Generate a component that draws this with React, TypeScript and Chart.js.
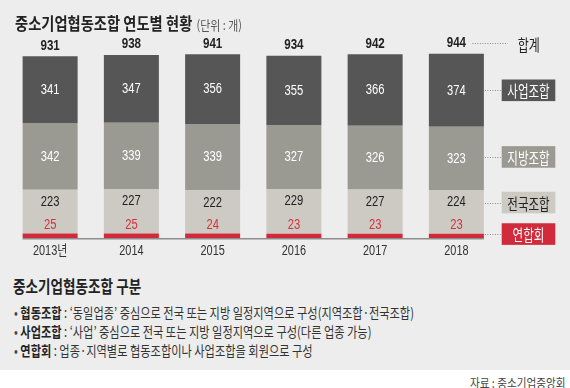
import React, { useEffect, useRef } from "react";
import { Chart, registerables } from "chart.js";

Chart.register(...registerables);

// ---- data ----
const years = ["2013년", "2014", "2015", "2016", "2017", "2018"];
const federation = [25, 25, 24, 23, 23, 23]; // 연합회
const national = [223, 227, 222, 229, 227, 224]; // 전국조합
const regional = [342, 339, 339, 327, 326, 323]; // 지방조합
const business = [341, 347, 356, 355, 366, 374]; // 사업조합
const totals = [931, 938, 941, 934, 942, 944];
const seriesNames = ["연합회", "전국조합", "지방조합", "사업조합"];
const totalLabel = "합계";
const yMax = 1000;

// ---- styles ----
const colors = ["#d12a3a", "#cdcac3", "#9b9a92", "#565656"];
const labelColors = ["#d3323f", "#222222", "#ffffff", "#ffffff"];
const legendText = ["#ffffff", "#222222", "#ffffff", "#ffffff"];
const NUM = "'Liberation Sans', 'Noto Sans CJK KR', sans-serif";
const KR = "'Noto Sans CJK KR', sans-serif";

function scaledText(ctx: CanvasRenderingContext2D, text: string, x: number, y: number, sx: number, align: CanvasTextAlign) {
  ctx.save();
  ctx.translate(x, y);
  ctx.scale(sx, 1);
  ctx.textAlign = align;
  ctx.fillText(text, 0, 0);
  ctx.restore();
}

const overlay = {
  id: "overlay",
  afterDatasetsDraw(chart: any) {
    const ctx: CanvasRenderingContext2D = chart.ctx;
    const metas = [0, 1, 2, 3].map((i) => chart.getDatasetMeta(i));
    const n = years.length;
    const first = metas[0].data[0];
    const last = metas[0].data[n - 1];
    const baseY = first.base;
    ctx.save();
    // baseline
    ctx.strokeStyle = "#8e8e8e";
    ctx.lineWidth = 1.5;
    ctx.beginPath();
    ctx.moveTo(first.x - first.width / 2, baseY + 0.5);
    ctx.lineTo(last.x + last.width / 2, baseY + 0.5);
    ctx.stroke();

    ctx.textBaseline = "middle";
    for (let j = 0; j < n; j++) {
      const red = metas[0].data[j];
      const light = metas[1].data[j];
      const mid = metas[2].data[j];
      const dark = metas[3].data[j];
      ctx.font = `14px ${NUM}`;
      ctx.fillStyle = labelColors[3];
      scaledText(ctx, String(business[j]), dark.x, (dark.y + dark.base) / 2 + 0.5, 0.8, "center");
      ctx.fillStyle = labelColors[2];
      scaledText(ctx, String(regional[j]), mid.x, (mid.y + mid.base) / 2 + 0.5, 0.8, "center");
      ctx.fillStyle = labelColors[1];
      scaledText(ctx, String(national[j]), light.x, light.y + 12.5, 0.8, "center");
      ctx.fillStyle = labelColors[0];
      scaledText(ctx, String(federation[j]), red.x, red.y - 8.5, 0.8, "center");
      ctx.font = `bold 14.5px ${NUM}`;
      ctx.fillStyle = "#222";
      scaledText(ctx, String(totals[j]), dark.x, dark.y - 10.5, 0.8, "center");
      ctx.font = `14px ${NUM}`;
      ctx.fillStyle = "#333";
      scaledText(ctx, years[j], dark.x, baseY + 12.5, 0.78, "center");
    }

    // legend boxes
    const lr = metas[0].data[n - 1];
    const barRight = lr.x + lr.width / 2;
    const boxL = chart.chartArea.right + 4.7;
    const boxW = 53.6;
    const boxH = 21.6;
    const ys = [
      (metas[0].data[n - 1].y + metas[0].data[n - 1].base) / 2 - 2,
      metas[1].data[n - 1].y + 12.5,
      (metas[2].data[n - 1].y + metas[2].data[n - 1].base) / 2 - 1.5,
      (metas[3].data[n - 1].y + metas[3].data[n - 1].base) / 2,
    ];
    ctx.strokeStyle = "#8a8a8a";
    ctx.lineWidth = 1;
    ctx.setLineDash([1, 1.5]);
    for (let i = 0; i < 4; i++) {
      const cy = Math.round(ys[i]) + 0.5;
      ctx.beginPath();
      ctx.moveTo(barRight + 1, cy);
      ctx.lineTo(boxL - 1, cy);
      ctx.stroke();
    }
    // total connector
    const topY = Math.round(metas[3].data[n - 1].y - 10.5) + 0.5;
    ctx.beginPath();
    ctx.moveTo(lr.x + 16, topY);
    ctx.lineTo(boxL + 6, topY);
    ctx.stroke();
    ctx.setLineDash([]);

    for (let i = 0; i < 4; i++) {
      ctx.fillStyle = colors[i];
      ctx.fillRect(boxL, ys[i] - boxH / 2, boxW, boxH);
      ctx.fillStyle = legendText[i];
      ctx.font = `16px ${KR}`;
      scaledText(ctx, seriesNames[i], boxL + boxW / 2, ys[i] + 1, 0.72, "center");
    }
    ctx.fillStyle = "#222";
    ctx.font = `16px ${KR}`;
    scaledText(ctx, totalLabel, boxL + 16, topY + 1, 0.75, "left");
    ctx.restore();
  },
};

function ChartCanvas() {
  const ref = useRef<HTMLCanvasElement | null>(null);
  useEffect(() => {
    if (!ref.current) return;
    const mk = (data: number[], i: number) => ({
      label: seriesNames[i],
      data,
      backgroundColor: colors[i],
      borderWidth: 0,
      barPercentage: 0.677,
      categoryPercentage: 1,
    });
    const chart = new Chart(ref.current, {
      type: "bar",
      data: {
        labels: years,
        datasets: [mk(federation, 0), mk(national, 1), mk(regional, 2), mk(business, 3)],
      },
      options: {
        animation: false,
        responsive: false,
        maintainAspectRatio: false,
        layout: { padding: { left: 9.5, right: 73, top: 42.8, bottom: 21.7 } },
        plugins: { legend: { display: false }, tooltip: { enabled: false }, title: { display: false } },
        scales: {
          x: { stacked: true, display: false },
          y: { stacked: true, display: false, min: 0, max: yMax },
        },
      },
      plugins: [overlay],
    });
    return () => chart.destroy();
  }, []);
  return <canvas ref={ref} width={570} height={260} style={{ position: "absolute", left: 0, top: 0, width: 570, height: 260 }} />;
}

const sx = (s: number, origin = "left center"): React.CSSProperties => ({
  display: "inline-block",
  transform: `scaleX(${s})`,
  transformOrigin: origin,
  whiteSpace: "nowrap",
});

export default function App() {
  const kr = "'Noto Sans CJK KR', sans-serif";
  const bullet = (bold: string, rest: string, top: number) => (
    <div style={{ position: "absolute", left: 14, top, fontSize: 14, lineHeight: "18px", color: "#333", fontFamily: kr }}>
      <span style={sx(0.8)}>
        <span style={{ color: "#444" }}>•</span> <span style={{ fontWeight: 700, color: "#222" }}>{bold}</span>
        {rest}
      </span>
    </div>
  );
  return (
    <div style={{ position: "fixed", left: 0, top: 0, width: 570, height: 388, background: "#ffffff", overflow: "hidden", fontFamily: kr }}>
      <div style={{ position: "absolute", left: 0, top: 0, width: 570, height: 370, background: "#ededed" }} />
      <ChartCanvas />
      <div style={{ position: "absolute", left: 15, top: 12, lineHeight: "22px", color: "#222" }}>
        <span style={sx(0.84)}>
          <span style={{ fontSize: 17, fontWeight: 700 }}>중소기업협동조합 연도별 현황</span>
          <span style={{ fontSize: 13, color: "#555", marginLeft: 5 }}>(단위 : 개)</span>
        </span>
      </div>
      <div style={{ position: "absolute", left: 13, top: 275, lineHeight: "22px", color: "#222" }}>
        <span style={{ ...sx(0.8), fontSize: 17, fontWeight: 700 }}>중소기업협동조합 구분</span>
      </div>
      {bullet("협동조합", " : ‘동일업종’ 중심으로 전국 또는 지방 일정지역으로 구성(지역조합·전국조합)", 303)}
      {bullet("사업조합", " : ‘사업’ 중심으로 전국 또는 지방 일정지역으로 구성(다른 업종 가능)", 322)}
      {bullet("연합회", " : 업종·지역별로 협동조합이나 사업조합을 회원으로 구성", 341)}
      <div style={{ position: "absolute", right: 4, top: 374, fontSize: 12.5, lineHeight: "17px", color: "#444" }}>
        <span style={sx(0.85, "right center")}>자료 : 중소기업중앙회</span>
      </div>
    </div>
  );
}
